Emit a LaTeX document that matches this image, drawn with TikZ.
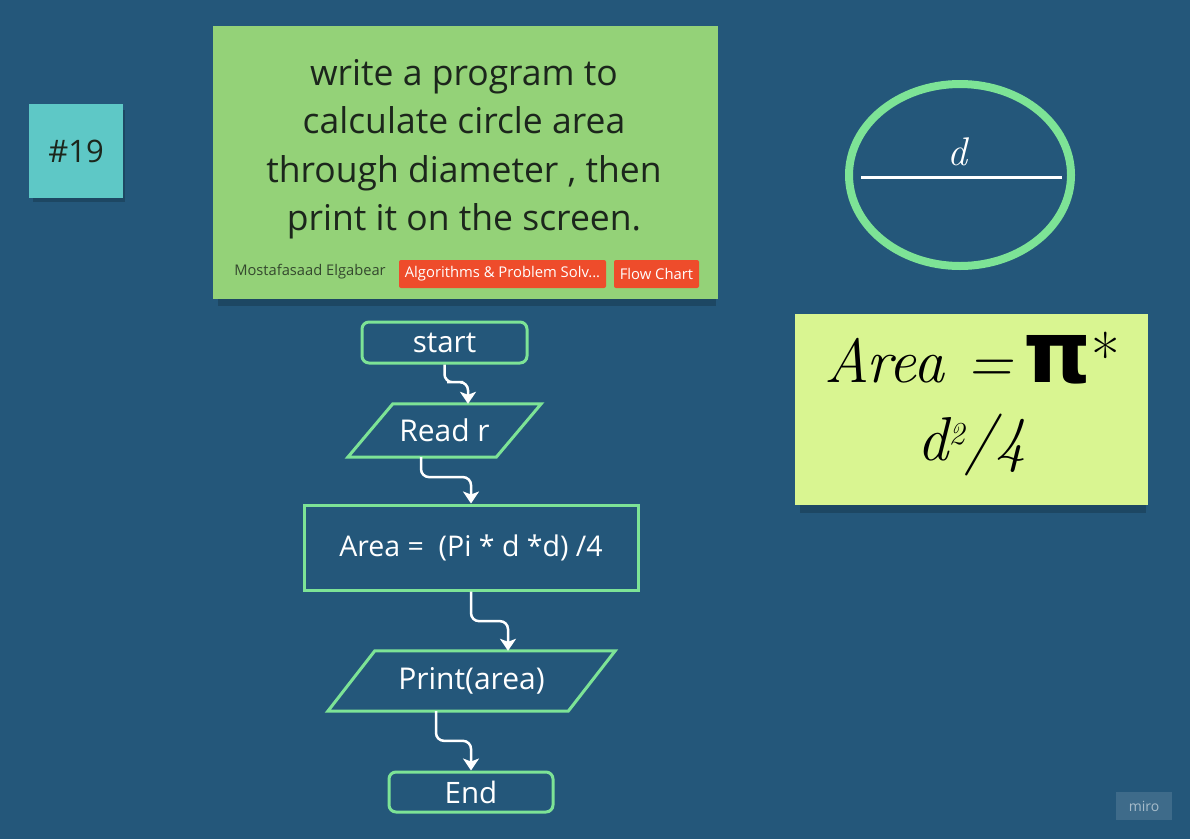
\documentclass[tikz,border=0pt]{standalone}
\usepackage{fontspec}
\setmainfont{Open Sans}
\newfontfamily\lmfont{Latin Modern Roman}
\newfontfamily\djfont{DejaVu Sans}
\usetikzlibrary{calc,arrows.meta,shapes.geometric}
\definecolor{bg}{RGB}{36,87,122}
\definecolor{flowgreen}{RGB}{125,227,150}
\definecolor{notegreen}{RGB}{148,210,120}
\definecolor{noteteal}{RGB}{94,200,198}
\definecolor{noteyellow}{RGB}{217,245,145}
\definecolor{tagred}{RGB}{238,76,43}
\definecolor{notetext}{RGB}{28,38,28}
\tikzset{
  flowline/.style={draw=flowgreen, line width=3},
  term/.style={flowline, rounded corners=7, inner sep=0, text=white, font=\fontsize{29.5}{32}\selectfont},
  proc/.style={flowline, inner sep=0, text=white, font=\fontsize{28.5}{30}\selectfont},
  io/.style={inner sep=0, text=white, font=\fontsize{30}{32}\selectfont},
  conn/.style={draw=white, line width=2.5, rounded corners=8, -{Stealth[length=12, width=16, inset=3]}},
  note/.style={inner sep=0},
  tag/.style={fill=tagred, rounded corners=2, inner sep=0, text=white, font=\fontsize{14.8}{16}\selectfont},
  shadow/.style={fill=black, opacity=0.18},
}
\newcommand\drawpara[2]{\draw[flowline, line join=miter] (#1.south west) -- ($(#1.north west)+(#2,0)$) -- (#1.north east) -- ($(#1.south east)-(#2,0)$) -- cycle;}
\begin{document}
\begin{tikzpicture}[x=1pt,y=-1pt]
\fill[bg] (0,0) rectangle (1190,839);
\useasboundingbox (0,0) rectangle (1190,839);

% shadows
\fill[shadow] (33,110) rectangle (125,202);
\fill[shadow] (218,36) rectangle (716,306);
\fill[shadow] (800,322) rectangle (1146,513);

% notes
\node[note, fill=noteteal, minimum width=94, minimum height=94] (n19) at (76,151) {};
\node[text=notetext, font=\fontsize{31}{34}\selectfont] (n19t) at (76,151) {\#19};

\node[note, fill=notegreen, minimum width=505, minimum height=273] (task) at (465.5,162.5) {};
\node[text=notetext, align=center, font=\fontsize{35.5}{48.5}\selectfont] (tasktext) at (464,149) {write a program to\\calculate circle area\\through diameter , then\\print it on the screen.};
\node[text=notetext!80!notegreen, font=\fontsize{14.7}{16}\selectfont] (author) at (310,272) {Mostafasaad Elgabear};
\node[tag, minimum width=207, minimum height=28] (tag1) at (502.5,274) {Algorithms \& Problem Solv...};
\node[tag, minimum width=85, minimum height=28] (tag2) at (656.5,274) {Flow Chart};

% circle with diameter
\node[ellipse, draw=flowgreen, line width=8, minimum width=222, minimum height=182, inner sep=0] (circ) at (960,175) {};
\draw[white, line width=3] (861,177.5) -- (1062,177.5);
\node[text=white, font=\lmfont\itshape\fontsize{40}{40}\selectfont] (dlabel) at (957,152) {d};

% formula note
\node[note, fill=noteyellow, minimum width=353, minimum height=191] (formula) at (971.5,409.5) {};
\node[text=black, align=center, font=\lmfont\itshape\fontsize{62}{84}\selectfont] (formtext) at (972,404)
  {Area =\,{\djfont\bfseries\upshape\fontsize{86}{86}\selectfont π}{\upshape\raisebox{4pt}{*}}\\[-6pt] d\raisebox{16pt}{\fontsize{32}{32}\selectfont 2}/4};

% flowchart
\node[term, minimum width=165, minimum height=41] (start) at (444.5,342.5) {start};
\node[io, minimum width=193, minimum height=53] (read) at (444.5,430.5) {Read r};
\drawpara{read}{45}
\node[proc, minimum width=334, minimum height=85] (area) at (471,547.5) {\raisebox{-2pt}{Area =\ \ (Pi * d *d) /4}};
\node[io, minimum width=287, minimum height=60] (print) at (471.5,681) {\raisebox{-2pt}{Print(area)}};
\drawpara{print}{47}
\node[term, minimum width=164, minimum height=40] (end) at (471,792) {End};

\coordinate (r1) at ($(read.north)+(23.5,0)$);
\coordinate (m1) at ($(start.south)!0.45!(r1)$);
\draw[conn] (start.south) |- (m1) -| (r1);
\coordinate (r2) at ($(read.south)+(-23.5,0)$);
\coordinate (m2) at ($(r2)!0.43!(area.north)$);
\draw[conn] (r2) |- (m2) -| (area.north);
\coordinate (p1) at ($(print.north)+(36.5,0)$);
\coordinate (m3) at ($(area.south)!0.5!(p1)$);
\draw[conn] (area.south) |- (m3) -| (p1);
\coordinate (p2) at ($(print.south)+(-35.5,0)$);
\coordinate (m4) at ($(p2)!0.5!(end.north)$);
\draw[conn] (p2) |- (m4) -| (end.north);

% miro logo
\node[fill=white, fill opacity=0.12, text opacity=1, text=white!60!bg, minimum width=56, minimum height=28, inner sep=0, font=\fontsize{14}{16}\selectfont] (miro) at (1144,806) {miro};
\end{tikzpicture}
\end{document}
